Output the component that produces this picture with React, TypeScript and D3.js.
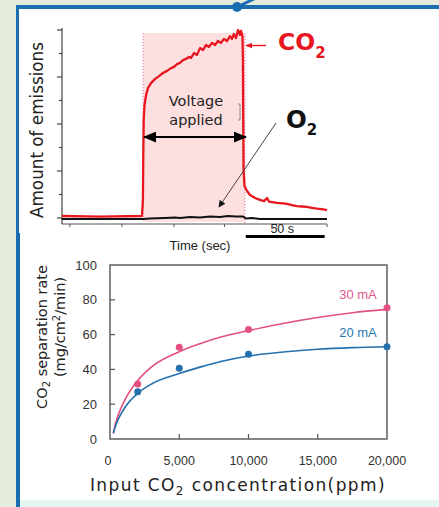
import React from 'react'
import * as d3 from 'd3'

// top panel - emission traces (time in s, amount in arbitrary units)
const co2Time = [0, 24.1, 50.7, 51.3, 51.5, 51.8, 52.3, 53.3, 54.5, 56.4, 58.9, 61.5, 64.0, 66.6, 69.1, 71.0, 72.9, 74.8, 76.7, 78.6, 80.5, 81.8, 83.7, 85.6, 87.5, 89.4, 91.3, 93.2, 95.1, 97.0, 98.9, 100.8, 102.7, 104.6, 106.5, 107.8, 109.0, 110.3, 111.6, 112.8, 113.5, 114.4, 114.7, 114.9, 115.1, 115.7, 117.3, 119.2, 122.4, 125.5, 128.1, 130.0, 131.2, 136.3, 140.1, 142.6, 145.8, 149.0, 152.2, 155.3, 158.5, 161.7, 164.8, 168]
const co2Amount = [0.85, 0.6, 0.85, 7.7, 24.7, 41.7, 48.1, 52.3, 55.3, 57.4, 59.1, 60.4, 61.7, 62.6, 63.8, 64.3, 65.5, 66.0, 67.2, 67.7, 68.5, 68.1, 70.2, 69.4, 72.3, 71.5, 73.6, 72.8, 74.5, 73.6, 75.3, 74.5, 76.2, 75.3, 77.4, 76.2, 78.3, 76.6, 80.0, 77.9, 79.6, 77.4, 67.2, 41.7, 20.4, 13.6, 11.5, 9.8, 8.5, 7.7, 7.2, 8.5, 7.0, 6.4, 6.2, 6.0, 5.5, 5.1, 4.9, 4.7, 4.3, 4.0, 3.8, 3.4]
const o2Time = [0, 51.4, 55.8, 65.3, 71.6, 74.8, 81.1, 87.5, 93.8, 100.2, 105.2, 110.3, 114.7, 116.6, 120.5, 125.5, 168]
const o2Amount = [-0.4, -0.4, -0.2, 0, 0.2, 0, 0.4, 0.2, 0.6, 0.4, 0.9, 0.6, 0.6, -0.2, 0, -0.4, -0.4]
const voltageOn = [51.4, 116]
const timeTicks = [5, 38, 71, 103, 136, 168]
const amountMajor = [0, 20, 40, 60, 80]
const amountMinor = [10, 30, 50, 70]
const scaleBar = [116.5, 166.5]

// bottom panel - separation rate vs input concentration
const concTicks = [0, 5000, 10000, 15000, 20000]
const rateTicks = [0, 20, 40, 60, 80, 100]
const measuredConc = [2000, 5000, 10000, 20000]
const rate30mA = [31.6, 52.7, 63.0, 75.5]
const rate20mA = [27.2, 40.6, 48.7, 53.0]
const fitConc = [240, 400, 700, 1200, 2000, 3000, 5000, 6500, 8000, 10000, 12500, 15000, 17500, 20000]
const fit30mA = [3.3, 9.0, 16.0, 24.3, 33.6, 41.5, 50.2, 54.8, 58.6, 62.3, 66.4, 69.8, 72.6, 74.5]
const fit20mA = [3.3, 7.5, 13.0, 19.5, 26.2, 31.6, 37.6, 41.3, 44.5, 47.7, 50.0, 51.6, 52.5, 53.0]

const PINK = '#e2507f'
const BLUE = '#2470ad'
const RED = '#e8161e'

export default function App() {
  const x1 = d3.scaleLinear().domain([0, 168]).range([62, 327])
  const y1 = d3.scaleLinear().domain([-2.55, 80.85]).range([224, 28])
  const trace = (ts: number[]) => d3.line<number>().x((d, i) => x1(ts[i])).y(d => y1(d))
  const co2Path = trace(co2Time)(co2Amount) || ''
  const o2Path = trace(o2Time)(o2Amount) || ''

  const x2 = d3.scaleLinear().domain([0, 20000]).range([110, 387])
  const y2 = d3.scaleLinear().domain([0, 100]).range([439, 265])
  const fit = d3.line<number>().x((d, i) => x2(fitConc[i])).y(d => y2(d)).curve(d3.curveMonotoneX)

  const onX = x1(voltageOn[0]), offX = x1(voltageOn[1])
  const arrowY = 137

  return (
    <div>
      <style>{`body{margin:0}`}</style>
      <svg width={439} height={507} style={{display: 'block'}} fontFamily="'Liberation Sans', Arial, sans-serif">
        <defs>
          <marker id="blk" viewBox="0 0 10 10" refX="9" refY="5" markerWidth="7" markerHeight="7" orient="auto-start-reverse">
            <path d="M0,0 L10,5 L0,10 z" fill="#111" />
          </marker>
          <marker id="big" viewBox="0 0 12 10" refX="11" refY="5" markerWidth="6" markerHeight="5" orient="auto-start-reverse">
            <path d="M0,0 L12,5 L0,10 z" fill="#000" />
          </marker>
          <marker id="red" viewBox="0 0 10 10" refX="9" refY="5" markerWidth="5" markerHeight="5" orient="auto-start-reverse">
            <path d="M0,1 L10,5 L0,9 z" fill={RED} />
          </marker>
        </defs>
        {/* frame */}
        <rect x={0} y={0} width={439} height={507} fill="#e4ebdb" />
        <rect x={16} y={5} width={423} height={502} fill="#ffffff" />
        <rect x={20} y={500} width={419} height={7} fill="#e6f7f3" />
        <rect x={16} y={5} width={4} height={502} fill="#1b6db3" />
        <rect x={16} y={5} width={423} height={4} fill="#1b6db3" />
        <rect x={19} y={9} width={420} height={224} fill="#ffffff" />
        <line x1={237} y1={7} x2={256} y2={-2} stroke="#1b6db3" strokeWidth={3} />
        <circle cx={237} cy={7} r={5} fill="#1b6db3" />

        {/* top panel */}
        <rect x={onX} y={y1(78.7)} width={offX - onX} height={y1(-1.7) - y1(78.7)} fill="#fddfdf" />
        <line x1={onX} x2={onX} y1={y1(78.7)} y2={y1(-1.7)} stroke="#e0709a" strokeDasharray="1,2" />
        <line x1={offX} x2={offX} y1={y1(78.7)} y2={y1(-2.5)} stroke="#e0709a" strokeDasharray="1,2" />

        <line x1={62} x2={62} y1={28} y2={224} stroke="#444" strokeWidth={1.2} />
        <line x1={62} x2={327} y1={224} y2={224} stroke="#555" strokeWidth={1.1} />
        {amountMajor.map(v => <line key={'M' + v} x1={57} x2={62} y1={y1(v)} y2={y1(v)} stroke="#444" strokeWidth={1.2} />)}
        {amountMinor.map(v => <line key={'m' + v} x1={59} x2={62} y1={y1(v)} y2={y1(v)} stroke="#444" strokeWidth={1.2} />)}
        {timeTicks.map(t => <line key={t} x1={x1(t)} x2={x1(t)} y1={224} y2={227} stroke="#555" />)}

        <path d={o2Path} fill="none" stroke="#111" strokeWidth={2} />
        <path d={co2Path} fill="none" stroke={RED} strokeWidth={2.3} strokeLinejoin="round" />

        <text x={196} y={106} textAnchor="middle" fontFamily="'DejaVu Sans', sans-serif" fontSize={14.5} fill="#222">Voltage</text>
        <text x={196} y={125} textAnchor="middle" fontFamily="'DejaVu Sans', sans-serif" fontSize={14.5} fill="#222">applied</text>
        <line x1={onX + 1} x2={offX + 1} y1={arrowY} y2={arrowY} stroke="#000" strokeWidth={2.2} markerStart="url(#big)" markerEnd="url(#big)" />
        <path d="M238,104 L240,104 L240,120 L238,120" fill="none" stroke="#777" strokeWidth={0.8} />

        <text x={278} y={50} fontFamily="'DejaVu Sans', sans-serif" fontWeight="bold" fontSize={23.5} fill={RED}>CO<tspan fontSize={15} dy={8}>2</tspan></text>
        <line x1={266} x2={246} y1={45.5} y2={45.5} stroke={RED} strokeWidth={1.4} markerEnd="url(#red)" />
        <text x={286} y={128} fontFamily="'DejaVu Sans', sans-serif" fontWeight="bold" fontSize={24.5} fill="#111">O<tspan fontSize={15} dy={7}>2</tspan></text>
        <line x1={276} y1={123} x2={219} y2={207} stroke="#444" strokeWidth={1} markerEnd="url(#blk)" />

        <text transform="translate(43,130) rotate(-90)" textAnchor="middle" fontFamily="'DejaVu Sans', sans-serif" fontSize={16.8} fill="#222">Amount of emissions</text>
        <text x={200} y={250} textAnchor="middle" fontSize={13} fill="#222">Time (sec)</text>
        <text x={x1((scaleBar[0] + scaleBar[1]) / 2) - 3} y={233} textAnchor="middle" fontSize={12.5} fill="#222">50 s</text>
        <line x1={x1(scaleBar[0])} x2={x1(scaleBar[1])} y1={236.5} y2={236.5} stroke="#000" strokeWidth={3} />

        {/* bottom panel */}
        <rect x={110} y={265} width={277} height={174} fill="none" stroke="#555" strokeWidth={1.4} />
        {rateTicks.slice(1, -1).map(v => <line key={v} x1={110} x2={115} y1={y2(v)} y2={y2(v)} stroke="#555" strokeWidth={1.2} />)}
        {concTicks.slice(1, -1).map(v => <line key={v} x1={x2(v)} x2={x2(v)} y1={439} y2={434} stroke="#555" strokeWidth={1.2} />)}
        {rateTicks.map(v => <text key={v} x={97} y={y2(v) + 4.6} textAnchor="end" fontSize={13} fill="#333">{v}</text>)}
        {concTicks.map(v => <text key={v} x={x2(v) - (v === 0 ? 2 : 0)} y={465} textAnchor="middle" fontSize={12.5} fill="#333">{d3.format(',')(v)}</text>)}

        <path d={fit(fit30mA) || ''} fill="none" stroke={PINK} strokeWidth={1.6} />
        <path d={fit(fit20mA) || ''} fill="none" stroke={BLUE} strokeWidth={1.6} />
        {measuredConc.map((c, i) => <circle key={'p' + c} cx={x2(c)} cy={y2(rate30mA[i])} r={3.5} fill={PINK} />)}
        {measuredConc.map((c, i) => <circle key={'b' + c} cx={x2(c)} cy={y2(rate20mA[i])} r={3.5} fill={BLUE} />)}
        <text x={358} y={299} textAnchor="middle" fontSize={13} fill="#e0558a">30 mA</text>
        <text x={358} y={337} textAnchor="middle" fontSize={13} fill="#2a78b0">20 mA</text>

        <text transform="translate(47,337) rotate(-90)" textAnchor="middle" fontFamily="'DejaVu Sans', sans-serif" fontSize={14.5} fill="#222">CO<tspan fontSize={10} dy={3}>2</tspan><tspan dy={-3}> separation rate</tspan></text>
        <text transform="translate(65,327) rotate(-90)" textAnchor="middle" fontFamily="'DejaVu Sans', sans-serif" fontSize={14.5} fill="#222">(mg/cm<tspan fontSize={10} dy={-5}>2</tspan><tspan dy={5}>/min)</tspan></text>
        <text x={238} y={491} textAnchor="middle" fontFamily="'DejaVu Sans', sans-serif" fontSize={17} letterSpacing={1.4} fill="#222">Input CO<tspan fontSize={12} dy={4}>2</tspan><tspan dy={-4}> concentration(ppm)</tspan></text>
      </svg>
    </div>
  )
}
